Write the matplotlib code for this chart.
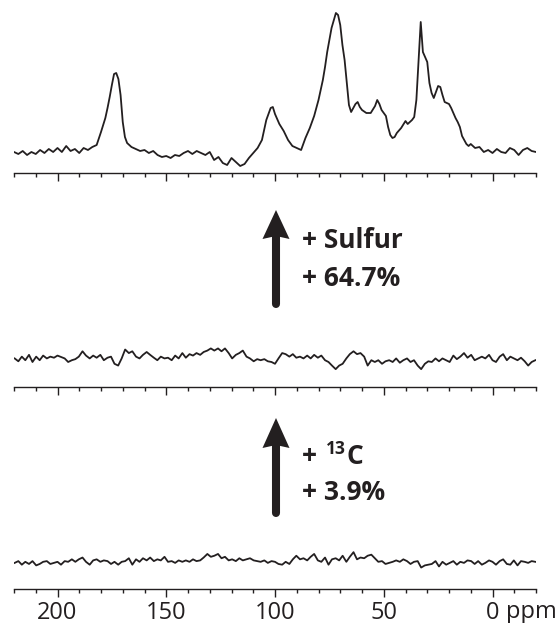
import matplotlib
matplotlib.use("Agg")
import matplotlib.pyplot as plt
from matplotlib.ticker import FixedLocator, MultipleLocator
from matplotlib.patches import Polygon

plt.rcParams['font.family'] = ['Open Sans', 'DejaVu Sans']

# ---------------- data ----------------
top_ppm = [220, 218, 216, 214, 212, 210, 208, 206, 204, 202, 200, 198, 196, 194, 192, 190, 188, 186, 184, 182,
           180, 178, 177, 176, 175, 174, 173, 172, 171, 170, 169, 168, 166, 164, 162, 160, 158, 156, 154, 152,
           150, 148, 146, 144, 142, 140, 138, 136, 134, 132, 130, 128, 126, 124, 122, 120, 118, 116, 114, 112,
           110, 108, 106, 104, 102, 101, 100, 98, 96, 94, 92, 90, 88, 87, 86, 84, 82, 80, 78, 77,
           76, 74, 72, 71, 70, 69, 68, 67, 66, 65, 64, 63, 62, 61, 60, 58, 56, 54, 53, 52,
           51, 50, 49, 48, 47, 46, 45, 44, 42, 40, 39, 38, 37, 36, 35, 34, 33, 32, 31, 30,
           29, 28, 27, 26, 25, 24, 23, 22, 21, 20, 19, 18, 17, 16, 15, 14, 13, 12, 11, 10,
           8, 6, 4, 2, 0, -2, -4, -6, -8, -10, -12, -14, -16, -18, -20]
top_int = [18, 16, 19, 15, 18, 16, 20, 17, 21, 18, 22, 18, 24, 19, 21, 17, 22, 20, 23, 25,
           38, 52, 62, 73, 85, 96, 97, 91, 75, 48, 33, 27, 23, 21, 19, 20, 17, 19, 15, 13,
           14, 12, 15, 14, 17, 19, 16, 19, 17, 15, 18, 10, 13, 7, 5, 12, 8, 4, 6, 12,
           17, 22, 30, 50, 62, 63, 56, 46, 39, 30, 24, 22, 20, 26, 32, 42, 54, 70, 90, 103,
           118, 142, 157, 155, 145, 125, 110, 88, 65, 58, 62, 66, 68, 63, 60, 57, 57, 64, 70, 66,
           60, 57, 54, 43, 35, 32, 33, 37, 42, 49, 46, 48, 50, 53, 70, 110, 148, 118, 113, 108,
           87, 77, 72, 78, 84, 83, 75, 68, 67, 66, 62, 57, 52, 48, 43, 34, 30, 26, 24, 26,
           22, 23, 18, 20, 17, 21, 18, 17, 22, 20, 15, 20, 22, 19, 18]

noise_ppm = [219.7, 218.0, 216.4, 214.8, 213.1, 211.5, 209.8, 208.2, 206.6, 204.9,
             203.3, 201.6, 200.0, 198.4, 196.7, 195.1, 193.4, 191.8, 190.2, 188.5,
             186.9, 185.2, 183.6, 182.0, 180.3, 178.7, 177.0, 175.4, 173.8, 172.1,
             170.5, 168.9, 167.2, 165.6, 163.9, 162.3, 160.7, 159.0, 157.4, 155.7,
             154.1, 152.5, 150.8, 149.2, 147.5, 145.9, 144.3, 142.6, 141.0, 139.3,
             137.7, 136.1, 134.4, 132.8, 131.1, 129.5, 127.9, 126.2, 124.6, 123.0,
             121.3, 119.7, 118.0, 116.4, 114.8, 113.1, 111.5, 109.8, 108.2, 106.6,
             104.9, 103.3, 101.6, 100.0, 98.4, 96.7, 95.1, 93.4, 91.8, 90.2,
             88.5, 86.9, 85.2, 83.6, 82.0, 80.3, 78.7, 77.0, 75.4, 73.8,
             72.1, 70.5, 68.9, 67.2, 65.6, 63.9, 62.3, 60.7, 59.0, 57.4,
             55.7, 54.1, 52.5, 50.8, 49.2, 47.5, 45.9, 44.3, 42.6, 41.0,
             39.3, 37.7, 36.1, 34.4, 32.8, 31.1, 29.5, 27.9, 26.2, 24.6,
             23.0, 21.3, 19.7, 18.0, 16.4, 14.8, 13.1, 11.5, 9.8, 8.2,
             6.6, 4.9, 3.3, 1.6, 0.0, -1.6, -3.3, -4.9, -6.6, -8.2,
             -9.8, -11.5, -13.1, -14.8, -16.4, -18.0, -19.7]
mid_int = [30, 22, 35, 25, 40, 20, 35, 25, 38, 30,
           35, 32, 38, 34, 30, 20, 25, 28, 35, 50,
           38, 30, 38, 32, 40, 25, 32, 35, 15, 10,
           30, 55, 45, 50, 35, 30, 40, 48, 40, 32,
           25, 35, 30, 32, 25, 38, 30, 45, 32, 42,
           38, 45, 40, 48, 52, 58, 52, 58, 50, 58,
           45, 30, 40, 45, 52, 35, 30, 22, 28, 25,
           28, 22, 20, 15, 30, 45, 42, 35, 42, 32,
           35, 30, 38, 30, 40, 32, 38, 25, 20, 10,
           0, 10, 15, 30, 42, 50, 42, 45, 35, 10,
           25, 20, 25, 15, 22, 25, 20, 30, 18, 25,
           30, 20, 25, 10, 0, 15, 22, 20, 30, 22,
           30, 25, 20, 38, 28, 35, 45, 32, 40, 25,
           30, 35, 30, 40, 25, 20, 35, 42, 25, 35,
           30, 25, 32, 22, 10, 20, 25]
bot_int = [75, 80, 70, 78, 72, 80, 68, 72, 78, 80,
           72, 75, 78, 70, 80, 78, 85, 78, 85, 90,
           78, 70, 82, 85, 78, 82, 80, 72, 78, 70,
           78, 80, 88, 70, 85, 78, 88, 82, 90, 80,
           85, 82, 92, 78, 80, 75, 82, 78, 82, 78,
           85, 80, 82, 90, 100, 92, 95, 100, 88, 92,
           82, 85, 80, 88, 82, 85, 88, 82, 80, 78,
           82, 75, 80, 78, 72, 70, 78, 72, 85, 95,
           85, 88, 82, 92, 100, 82, 78, 90, 70, 85,
           88, 82, 95, 78, 92, 105, 85, 90, 88, 95,
           98, 88, 78, 80, 72, 75, 78, 82, 78, 85,
           80, 72, 78, 80, 62, 68, 70, 72, 80, 65,
           78, 70, 75, 80, 70, 78, 75, 82, 80, 72,
           80, 70, 75, 82, 78, 70, 80, 85, 72, 70,
           82, 68, 80, 78, 75, 80, 78]

major_ticks = [200, 150, 100, 50, 0]
tick_labels = ["200", "150", "100", "50", "0"]
unit_label = "ppm"
annot_upper = ["+ Sulfur", "+ 64.7%"]
annot_lower_sup = "13"
annot_lower_main = "C"
annot_lower_pct = "+ 3.9%"

# ---------------- figure ----------------
W, H = 560, 623
fig = plt.figure(figsize=(W / 100, H / 100), dpi=100)
ink = "#231f20"
trace_lw = 1.3


def px_axes(left, right, bottom_px, top_px):
    return fig.add_axes([left / W, (H - bottom_px) / H, (right - left) / W, (bottom_px - top_px) / H])


def style(ax, labels=False):
    for s in ("top", "left", "right"):
        ax.spines[s].set_visible(False)
    ax.spines["bottom"].set_linewidth(1.0)
    ax.spines["bottom"].set_color(ink)
    ax.set_xlim(220, -20)
    ax.xaxis.set_major_locator(FixedLocator(major_ticks))
    ax.xaxis.set_minor_locator(MultipleLocator(10))
    ax.tick_params(axis="x", which="major", length=5.8, width=1.0, color=ink, direction="out",
                   pad=2.5, labelsize=17, labelcolor=ink)
    ax.tick_params(axis="x", which="minor", length=3.1, width=1.0, color=ink, direction="out")
    ax.set_yticks([])
    ax.patch.set_alpha(0)
    if labels:
        ax.set_xticklabels(tick_labels)
    else:
        ax.set_xticklabels([])


ax_top = px_axes(14, 536, 173, 0)
ax_top.plot(top_ppm, top_int, color=ink, lw=trace_lw, solid_joinstyle="round")
ax_top.set_ylim(-3, 170)
style(ax_top)

ax_mid = px_axes(14, 536, 387, 317)
ax_mid.plot(noise_ppm, mid_int, color=ink, lw=trace_lw, solid_joinstyle="round")
ax_mid.set_ylim(-50, 146)
style(ax_mid)

ax_bot = px_axes(14, 536, 589, 530)
ax_bot.plot(noise_ppm, bot_int, color=ink, lw=trace_lw, solid_joinstyle="round")
ax_bot.set_ylim(2, 167)
style(ax_bot, labels=True)

# overlay in pixel coordinates for arrows and annotations
ov = fig.add_axes([0, 0, 1, 1])
ov.set_xlim(0, W)
ov.set_ylim(H, 0)
ov.axis("off")
ov.patch.set_alpha(0)


def arrow(x, tip, base, bottom):
    ov.plot([x, x], [bottom - 4, base - 4], color=ink, lw=5.8, solid_capstyle="round")
    ov.add_patch(Polygon([(x, tip), (x + 13.5, base), (x, base - 3), (x - 13.5, base)],
                         closed=True, color=ink, lw=0))


arrow(276, 210, 239, 308)
arrow(276, 418, 448, 517)

fs = 19
ov.text(302, 248, annot_upper[0], fontsize=fs, fontweight="bold", color=ink, va="baseline", ha="left")
ov.text(302, 286, annot_upper[1], fontsize=fs, fontweight="bold", color=ink, va="baseline", ha="left")
ov.text(302, 464, "+", fontsize=fs, fontweight="bold", color=ink, va="baseline", ha="left")
ov.text(326, 454, annot_lower_sup, fontsize=12.5, fontweight="bold", color=ink, va="baseline", ha="left")
ov.text(346, 464, annot_lower_main, fontsize=fs, fontweight="bold", color=ink, va="baseline", ha="left")
ov.text(302, 500, annot_lower_pct, fontsize=fs, fontweight="bold", color=ink, va="baseline", ha="left")

ov.text(506, 618, unit_label, fontsize=17, color=ink, va="baseline", ha="left")

fig.savefig("out.png", dpi=100)
